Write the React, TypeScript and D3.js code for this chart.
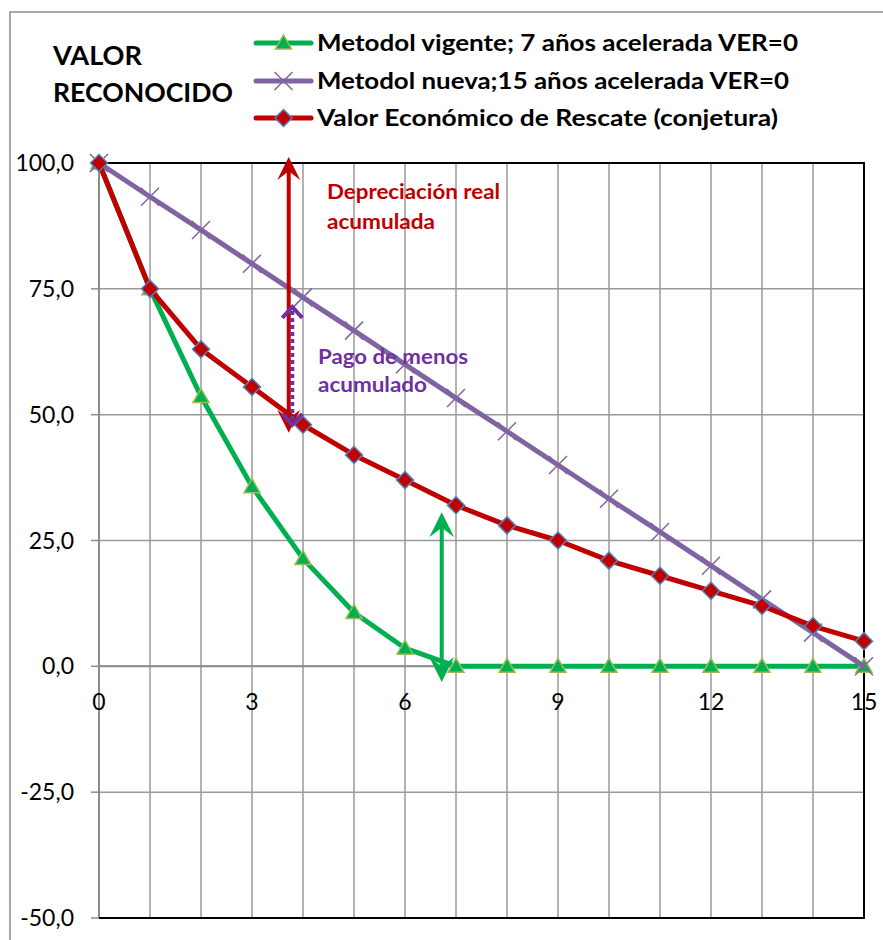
import * as d3 from 'd3';

// Data
const years = [0, 1, 2, 3, 4, 5, 6, 7, 8, 9, 10, 11, 12, 13, 14, 15];
const vigente = [100, 75, 53.6, 35.7, 21.4, 10.7, 3.6, 0, 0, 0, 0, 0, 0, 0, 0, 0];
const nueva = [100, 93.3, 86.7, 80, 73.3, 66.7, 60, 53.3, 46.7, 40, 33.3, 26.7, 20, 13.3, 6.7, 0];
const rescate = [100, 75, 63, 55.5, 48, 42, 37, 32, 28, 25, 21, 18, 15, 12, 8, 5];

const yTicks = [-50, -25, 0, 25, 50, 75, 100];
const xTickLabels = [0, 3, 6, 9, 12, 15];

const seriesNames = [
  'Metodol vigente; 7 años acelerada VER=0',
  'Metodol nueva;15 años acelerada VER=0',
  'Valor Económico de Rescate (conjetura)',
];

// annotation arrows (data units): x, bottom tip, top tip
const redArrow = { x: 3.72, y1: 46.4, y2: 101.2 };
const purpleArrow = { x: 3.79, y1: 48.0, y2: 71.4 };
const greenArrow = { x: 6.72, y1: -3.1, y2: 30.6 };

const GREEN = '#00B050';
const PURPLE = '#8064A2';
const RED = '#C00000';
const FONT = 'Lato, Calibri, sans-serif';

const width = 883;
const height = 940;

const x = d3.scaleLinear().domain([0, 15]).range([99, 864]);
const y = d3.scaleLinear().domain([-50, 100]).range([918, 163]);

const fmt = (v: number) => d3.format('.1f')(v).replace('.', ',').replace('\u2212', '-');

function stealth(cx: number, tipY: number, dir: number, w: number, L: number) {
  // dir = 1 -> arrow points up (body below), -1 -> points down
  return `M${cx},${tipY} L${cx + w / 2},${tipY + dir * L} L${cx},${tipY + dir * L * 0.62} L${cx - w / 2},${tipY + dir * L} Z`;
}

function Triangle({ cx, cy }: { cx: number; cy: number }) {
  const s = 8;
  return (
    <path
      d={`M${cx},${cy - s} L${cx + s},${cy + s * 0.75} L${cx - s},${cy + s * 0.75} Z`}
      fill={GREEN}
      stroke="#9BBB59"
      strokeWidth={1.5}
    />
  );
}

function Cross({ cx, cy }: { cx: number; cy: number }) {
  const s = 9;
  return (
    <path
      d={`M${cx - s},${cy - s} L${cx + s},${cy + s} M${cx - s},${cy + s} L${cx + s},${cy - s}`}
      stroke={PURPLE}
      strokeWidth={1.5}
      fill="none"
    />
  );
}

function Diamond({ cx, cy }: { cx: number; cy: number }) {
  const s = 8.5;
  return (
    <path
      d={`M${cx},${cy - s} L${cx + s},${cy} L${cx},${cy + s} L${cx - s},${cy} Z`}
      fill={RED}
      stroke="#4F81BD"
      strokeWidth={1.5}
    />
  );
}

export default function App() {
  const line = d3
    .line<number>()
    .x((_, i) => x(years[i]))
    .y((d) => y(d));

  const rx = x(redArrow.x);
  const px = x(purpleArrow.x);
  const gx = x(greenArrow.x);

  return (
    <svg
      width={width}
      height={height}
      style={{ position: 'absolute', left: 0, top: 0, background: '#fff' }}
      fontFamily={FONT}
    >
      {/* outer chart border */}
      <rect x={10} y={12} width={900} height={960} fill="#fff" stroke="#8c8c8c" strokeWidth={1.5} />

      {/* vertical gridlines */}
      {years.slice(1, 15).map((yr) => (
        <line key={'vg' + yr} x1={x(yr)} x2={x(yr)} y1={y(100)} y2={y(-50)} stroke="#9a9a9a" strokeWidth={1.5} />
      ))}
      {/* horizontal gridlines + y ticks */}
      {yTicks.map((t) => (
        <g key={'hg' + t}>
          <line x1={x(0)} x2={x(15)} y1={y(t)} y2={y(t)} stroke="#9a9a9a" strokeWidth={1.5} />
          <line x1={x(0) - 8} x2={x(0)} y1={y(t)} y2={y(t)} stroke="#8c8c8c" strokeWidth={1.5} />
          <text x={74} y={y(t) + 8} textAnchor="end" fontSize={23} fill="#000">
            {fmt(t)}
          </text>
        </g>
      ))}
      {/* y axis line */}
      <line x1={x(0)} x2={x(0)} y1={y(100)} y2={y(-50)} stroke="#8c8c8c" strokeWidth={2} />
      {/* x axis at 0 */}
      <line x1={x(0)} x2={x(15)} y1={y(0)} y2={y(0)} stroke="#8c8c8c" strokeWidth={2} />
      {/* plot border: top, right, bottom */}
      <path
        d={`M${x(0)},${y(100)} L${x(15)},${y(100)} L${x(15)},${y(-50)} L${x(0)},${y(-50)}`}
        fill="none"
        stroke="#000"
        strokeWidth={2}
      />
      {xTickLabels.map((t) => (
        <text key={'xl' + t} x={x(t)} y={710} textAnchor="middle" fontSize={23} fill="#000">
          {t}
        </text>
      ))}

      {/* series */}
      <path d={line(vigente) || ''} fill="none" stroke={GREEN} strokeWidth={5} strokeLinejoin="round" />
      {vigente.map((v, i) => (
        <Triangle key={'t' + i} cx={x(years[i])} cy={y(v)} />
      ))}
      <path d={line(nueva) || ''} fill="none" stroke={PURPLE} strokeWidth={5} strokeLinejoin="round" />
      {nueva.map((v, i) => (
        <Cross key={'c' + i} cx={x(years[i])} cy={y(v)} />
      ))}
      <path d={line(rescate) || ''} fill="none" stroke={RED} strokeWidth={5} strokeLinejoin="round" />
      {rescate.map((v, i) => (
        <Diamond key={'d' + i} cx={x(years[i])} cy={y(v)} />
      ))}

      {/* red double arrow */}
      <line x1={rx} x2={rx} y1={y(redArrow.y2) + 14} y2={y(redArrow.y1) - 14} stroke={RED} strokeWidth={4} />
      <path d={stealth(rx, y(redArrow.y2), 1, 23, 23)} fill={RED} />
      <path d={stealth(rx, y(redArrow.y1), -1, 23, 23)} fill={RED} />

      {/* purple dotted double arrow */}
      <line
        x1={px}
        x2={px}
        y1={y(purpleArrow.y2) + 4}
        y2={y(purpleArrow.y1) - 4}
        stroke="#7030A0"
        strokeWidth={4}
        strokeDasharray="4,3"
      />
      <path
        d={`M${px - 10},${y(purpleArrow.y2) + 11} L${px},${y(purpleArrow.y2)} L${px + 10},${y(purpleArrow.y2) + 11}`}
        fill="none"
        stroke="#7030A0"
        strokeWidth={4}
      />
      <path
        d={`M${px - 10},${y(purpleArrow.y1) - 11} L${px},${y(purpleArrow.y1)} L${px + 10},${y(purpleArrow.y1) - 11}`}
        fill="none"
        stroke="#7030A0"
        strokeWidth={4}
      />

      {/* green double arrow */}
      <line x1={gx} x2={gx} y1={y(greenArrow.y2) + 14} y2={y(greenArrow.y1) - 14} stroke={GREEN} strokeWidth={4} />
      <path d={stealth(gx, y(greenArrow.y2), 1, 25, 25)} fill={GREEN} />
      <path d={stealth(gx, y(greenArrow.y1), -1, 25, 25)} fill={GREEN} />

      {/* annotations */}
      <g fontWeight="bold" fontSize={20}>
        <text x={327} y={199} fill={RED} textLength={173} lengthAdjust="spacingAndGlyphs">Depreciación real</text>
        <text x={327} y={229} fill={RED} textLength={108} lengthAdjust="spacingAndGlyphs">acumulada</text>
        <text x={318} y={364} fill="#7030A0" textLength={150} lengthAdjust="spacingAndGlyphs">Pago de menos</text>
        <text x={318} y={392} fill="#7030A0" textLength={109} lengthAdjust="spacingAndGlyphs">acumulado</text>
      </g>

      {/* title */}
      <g fontWeight="bold" fontSize={26} fill="#000">
        <text x={53} y={65} textLength={89} lengthAdjust="spacingAndGlyphs">VALOR</text>
        <text x={53} y={102} textLength={180} lengthAdjust="spacingAndGlyphs">RECONOCIDO</text>
      </g>

      {/* legend */}
      {seriesNames.map((name, i) => {
        const base = [51, 89, 126][i];
        const cy = base - 8;
        const color = [GREEN, PURPLE, RED][i];
        const lens = [481, 472, 461];
        return (
          <g key={'lg' + i}>
            <line x1={256} x2={311} y1={cy} y2={cy} stroke={color} strokeWidth={5} strokeLinecap="round" />
            {i === 0 && <Triangle cx={283.5} cy={cy} />}
            {i === 1 && <Cross cx={283.5} cy={cy} />}
            {i === 2 && <Diamond cx={283.5} cy={cy} />}
            <text
              x={317}
              y={base}
              fontWeight="bold"
              fontSize={22.5}
              fill="#000"
              textLength={lens[i]}
              lengthAdjust="spacingAndGlyphs"
            >
              {name}
            </text>
          </g>
        );
      })}
    </svg>
  );
}
